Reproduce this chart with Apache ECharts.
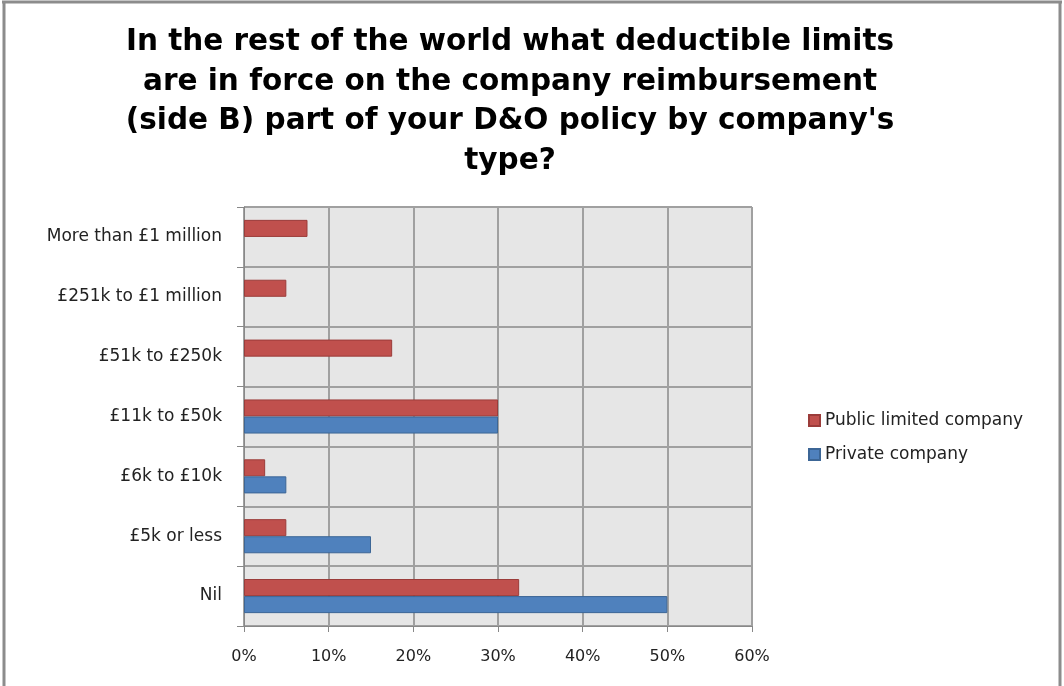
<!DOCTYPE html>
<html>
<head>
<meta charset="utf-8">
<script src="https://cdn.jsdelivr.net/npm/echarts@6/dist/echarts.min.js"></script>
<style>
  html, body { margin: 0; padding: 0; background: #ffffff; }
  #chart { width: 1064px; height: 686px; }
</style>
</head>
<body>
<div id="chart"></div>
<script>
// Deductible bands, listed bottom to top as they appear on the axis
const categories = ['Nil', '£5k or less', '£6k to £10k', '£11k to £50k', '£51k to £250k', '£251k to £1 million', 'More than £1 million'];
// Share of respondents (%) per band
const publicLimited = [32.5, 5, 2.5, 30, 17.5, 5, 7.5];
const privateCompany = [50, 15, 5, 30, null, null, null];
const seriesNames = ['Public limited company', 'Private company'];
const xTicks = [0, 10, 20, 30, 40, 50, 60];

const chart = echarts.init(document.getElementById('chart'));
const labelFont = '"DejaVu Sans", "Liberation Sans", sans-serif';

chart.setOption({
  backgroundColor: '#ffffff',
  animation: false,
  title: {
    text: 'In the rest of the world what deductible limits\nare in force on the company reimbursement\n(side B) part of your D&O policy by company\'s\ntype?',
    left: 505,
    top: 18,
    textAlign: 'center',
    textStyle: {
      fontFamily: '"DejaVu Sans", sans-serif',
      fontWeight: 'bold',
      fontSize: 29.5,
      lineHeight: 39.5,
      color: '#000000'
    }
  },
  legend: {
    orient: 'vertical',
    left: 803,
    top: 407,
    icon: 'rect',
    itemWidth: 11,
    itemHeight: 11,
    itemGap: 17,
    data: seriesNames,
    textStyle: { fontFamily: labelFont, fontSize: 17, color: '#222222' }
  },
  grid: { left: 244, right: 312, top: 207, bottom: 60, show: true, backgroundColor: '#e6e6e6', borderColor: '#a0a0a0', borderWidth: 1 },
  xAxis: {
    type: 'value',
    min: xTicks[0],
    max: xTicks[xTicks.length - 1],
    interval: 10,
    axisLine: { show: true, lineStyle: { color: '#888888', width: 1 } },
    axisTick: { show: true, length: 6, lineStyle: { color: '#888888' } },
    splitLine: { show: true, lineStyle: { color: '#a0a0a0', width: 2 } },
    axisLabel: {
      margin: 23,
      fontFamily: labelFont,
      fontSize: 16,
      color: '#222222',
      formatter: v => v + '%'
    }
  },
  yAxis: {
    type: 'category',
    data: categories,
    axisLine: { show: true, lineStyle: { color: '#888888', width: 1 } },
    axisTick: { show: true, length: 7, lineStyle: { color: '#888888' } },
    splitLine: { show: true, lineStyle: { color: '#a0a0a0', width: 2 } },
    axisLabel: { margin: 22, fontFamily: labelFont, fontSize: 17, color: '#222222' }
  },
  series: [
    {
      name: seriesNames[0],
      type: 'bar',
      data: publicLimited,
      barGap: '0%',
      barCategoryGap: '43%',
      itemStyle: { color: '#c0504d', borderColor: '#9b3c3a', borderWidth: 1 }
    },
    {
      name: seriesNames[1],
      type: 'bar',
      data: privateCompany,
      barGap: '0%',
      barCategoryGap: '43%',
      itemStyle: { color: '#4f81bd', borderColor: '#3c6696', borderWidth: 1 }
    }
  ],
  graphic: [
    { type: 'line', shape: { x1: 2, y1: 2, x2: 1062, y2: 2 }, style: { stroke: '#8c8c8c', lineWidth: 3 } },
    { type: 'line', shape: { x1: 4, y1: 2, x2: 4, y2: 686 }, style: { stroke: '#8c8c8c', lineWidth: 3 } },
    { type: 'line', shape: { x1: 1060, y1: 2, x2: 1060, y2: 686 }, style: { stroke: '#8c8c8c', lineWidth: 3 } }
  ]
});
</script>
</body>
</html>
